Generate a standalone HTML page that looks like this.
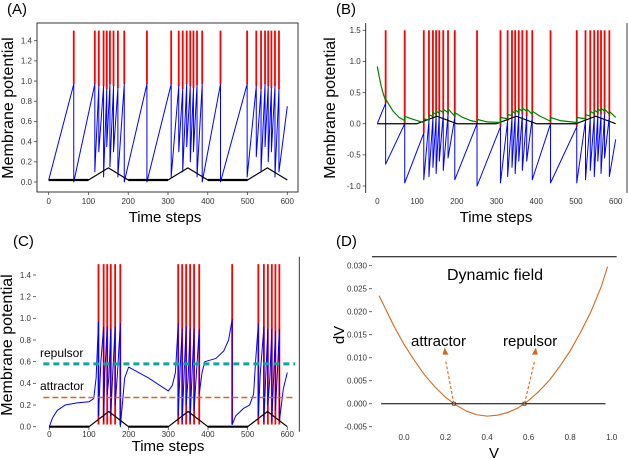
<!DOCTYPE html>
<html><head><meta charset="utf-8"><style>
body{margin:0;background:#fff}
svg{display:block;font-family:"Liberation Sans",sans-serif}
</style></head><body>
<svg id="fig" width="628" height="460" viewBox="0 0 628 460" xmlns="http://www.w3.org/2000/svg"></svg>
<script>
// ---------- data ----------
const xTicks=[0,100,200,300,400,500,600];
const inputT=[0,100,150,200,300,350,400,500,550,600];
const inputVA=[0.02,0.02,0.14,0.02,0.02,0.14,0.02,0.02,0.14,0.02];
const inputVB=[0.0,0.0,0.12,0.0,0.0,0.12,0.0,0.0,0.12,0.0];
const inputVC=[0.0,0.0,0.14,0.0,0.0,0.14,0.0,0.0,0.14,0.0];

const spikesA=[63,116,126,138,146,154,163,174,190,247,308,327,337,347,356,364,373,386,432,499,522,534,544,552,560,569,579];
const peaksA=[0.97,0.97,0.95,0.95,0.92,0.97,0.95,0.93,0.97,0.97,0.97,0.95,0.92,0.97,0.95,0.93,0.96,0.97,0.97,0.97,0.95,0.92,0.97,0.95,0.93,0.95,0.92];
const resetsA=[0,0.1,0.3,0.05,0.35,0.15,0.3,0.05,0,0,0.05,0.3,0.1,0.35,0.2,0.3,0.05,0,0,0.05,0.25,0.1,0.35,0.2,0.3,0.05,0.1];
const yTicksA=[0,0.2,0.4,0.6,0.8,1.0,1.2,1.4];

const spikesB=[21,69,117,130,140,148,156,166,178,195,251,310,328,339,347,356,365,376,390,436,502,524,536,546,555,563,572,584];
const peaksB=[0.33,0.0,-0.15,0.05,0.1,0.12,0.15,0.15,0.15,0.1,0.0,-0.05,0.05,0.1,0.15,0.15,0.15,0.12,0.1,0.0,-0.05,0.05,0.1,0.12,0.15,0.15,0.15,0.12];
const resetsB=[-0.65,-0.95,-0.9,-0.85,-0.7,-0.8,-0.6,-0.75,-0.55,-0.9,-1.0,-0.95,-0.85,-0.7,-0.8,-0.6,-0.75,-0.6,-0.9,-0.95,-0.95,-0.9,-0.75,-0.85,-0.6,-0.8,-0.55,-0.85];
const greenT=[0,5,10,15,21,21,30,40,55,69,69,85,100,117,117,130,130,140,140,148,148,156,156,166,166,178,178,195,195,215,235,251,251,275,310,310,328,328,339,339,347,347,356,356,365,365,376,376,390,390,410,436,436,460,502,502,524,524,536,536,546,546,555,555,563,563,572,572,584,584,600];
const greenV=[0.92,0.75,0.6,0.48,0.37,0.40,0.3,0.2,0.1,0.05,0.12,0.08,0.05,0.02,0.08,0.06,0.14,0.12,0.18,0.15,0.2,0.17,0.22,0.18,0.23,0.18,0.24,0.12,0.18,0.1,0.05,0.03,0.07,0.03,0.02,0.1,0.08,0.15,0.13,0.2,0.17,0.22,0.18,0.24,0.2,0.25,0.2,0.24,0.15,0.2,0.12,0.04,0.1,0.05,0.02,0.1,0.08,0.15,0.12,0.2,0.16,0.22,0.18,0.24,0.2,0.25,0.2,0.24,0.15,0.2,0.1];
const yTicksB=[-1.0,-0.5,0.0,0.5,1.0,1.5];

const spikesC=[124,137,146,155,166,179,325,335,345,355,365,378,461,527,541,551,561,570,580];
const blueC=[[0,0],[8,0.08],[20,0.15],[40,0.2],[70,0.22],[100,0.23],[112,0.26],[118,0.45],[124,0.97],[124,0.1],[130,0.6],[137,0.92],[137,0.05],[140,0.5],[146,0.92],[146,0.3],[150,0.45],[155,0.9],[155,0.1],[160,0.5],[166,0.92],[166,0.2],[172,0.5],[179,0.95],[179,0.0],[184,0.2],[190,0.45],[200,0.55],[250,0.45],[300,0.33],[310,0.38],[318,0.5],[325,0.95],[325,0.1],[330,0.55],[335,0.9],[335,0.05],[340,0.5],[345,0.92],[345,0.2],[350,0.45],[355,0.9],[355,0.05],[360,0.5],[365,0.9],[365,0.15],[371,0.5],[378,0.9],[378,0.3],[385,0.5],[392,0.6],[420,0.63],[440,0.7],[452,0.8],[461,0.99],[461,0.02],[470,0.1],[490,0.17],[505,0.2],[515,0.3],[520,0.6],[527,0.95],[527,0.1],[532,0.5],[541,0.92],[541,0.05],[546,0.5],[551,0.9],[551,0.2],[556,0.45],[561,0.9],[561,0.05],[566,0.5],[570,0.88],[570,0.15],[575,0.5],[580,0.9],[580,0.05],[585,0.2],[590,0.35],[600,0.5]];
const repulsorV=0.58, attractorV=0.27;
const yTicksC=[0,0.2,0.4,0.6,0.8,1.0,1.2,1.4];

const fieldV=[-0.12,-0.05,0.0,0.05,0.1,0.15,0.2,0.25,0.3,0.35,0.4,0.45,0.5,0.55,0.6,0.65,0.7,0.75,0.8,0.85,0.9,0.95,0.98];
const fieldDV=[0.0235,0.0170,0.0129,0.0094,0.0062,0.0036,0.0014,-0.0003,-0.0016,-0.0024,-0.0027,-0.0025,-0.0019,-0.0009,0.0007,0.0027,0.0051,0.0081,0.0115,0.0155,0.0200,0.0255,0.0298];
const fixedPoints=[0.24,0.58];
const xTicksD=[0.0,0.2,0.4,0.6,0.8,1.0];
const yTicksD=[-0.005,0,0.005,0.010,0.015,0.020,0.025,0.030];

// ---------- helpers ----------
const svg=document.getElementById('fig');
const NS='http://www.w3.org/2000/svg';
function el(tag,attrs,parent){const e=document.createElementNS(NS,tag);for(const k in attrs)e.setAttribute(k,attrs[k]);(parent||svg).appendChild(e);return e;}
function txt(s,attrs,parent){const e=el('text',attrs,parent);e.textContent=s;return e;}
function lin(d0,d1,r0,r1){return v=>r0+(v-d0)*(r1-r0)/(d1-d0);}

function panel(id,xs,ys,yTicks,fmt,tickX){
  const g=el('g',{});
  
  
  yTicks.forEach(v=>{
    const t=el('line',{x1:tickX-3,x2:tickX,y1:ys(v),y2:ys(v),stroke:'#444','stroke-width':0.8},g);
    
    
    const l=txt(fmt(v),{x:tickX-5,y:ys(v)+2.8,'font-size':8,fill:'#333','text-anchor':'end'},g);
    
    
  });
  return g;
}
function xtickLabels(g,xs,y,ticks,fmt){
  ticks.forEach(v=>{
    const l=txt(fmt(v),{x:xs(v),y:y,'font-size':8,fill:'#333','text-anchor':'middle'},g);
    
    
  });
}
function polyline(g,pts,color,w,name,dash){
  const p=el('polyline',{points:pts.map(p=>p[0].toFixed(2)+','+p[1].toFixed(2)).join(' '),fill:'none',stroke:color,'stroke-width':w,'stroke-linejoin':'round'},g);
  if(dash)p.setAttribute('stroke-dasharray',dash);
  
  
  return p;
}
function spikeLines(g,xs,ys,times,bottoms,top,name){
  times.forEach((t,i)=>{
    const b=Array.isArray(bottoms)?bottoms[i]:bottoms;
    const l=el('line',{x1:xs(t),x2:xs(t),y1:ys(b),y2:ys(top),stroke:'#ff0000','stroke-width':1.8},g);
    
    
  });
}
function bluePath(xs,ys,times,peaks,resets,start,end){
  const pts=[[xs(0),ys(start)]];
  times.forEach((t,i)=>{pts.push([xs(t),ys(peaks[i])]);pts.push([xs(t),ys(resets[i])]);});
  pts.push([xs(600),ys(end)]);
  return pts;
}
function flatInput(g,xs,ys,vals,name){
  for(let i=0;i<inputT.length-1;i++){
    if(vals[i]===vals[i+1]){
      const l=el('line',{x1:xs(inputT[i]),x2:xs(inputT[i+1]),y1:ys(vals[i]),y2:ys(vals[i]),stroke:'#000','stroke-width':2.2},g);
      
      
    }
  }
}
function axisTitles(g,cx,cy,xt,yx,yy,ylab){
  const a=txt('Time steps',{x:cx,y:cy,'font-size':15,'text-anchor':'middle',fill:'#000'},g);
  
  
  const b=txt(ylab,{x:0,y:0,'font-size':16,'text-anchor':'middle',fill:'#000',transform:`translate(${yx},${yy}) rotate(-90)`},g);
  
  
}
function panelLabel(s,x,y){
  const l=txt(s,{x:x,y:y,'font-size':15,fill:'#000'});
  
  
}
const f1=v=>v.toFixed(1);

// ---------- Panel A ----------
{
  const xs=lin(0,600,48.7,287.3), ys=lin(0,1.4,182,40.7);
  const g=panel('a',xs,ys,yTicksA,f1,37);
  const box=el('rect',{x:37,y:23,width:261,height:169,fill:'none',stroke:'#222','stroke-width':0.9},g);
  
  
  xTicks.forEach(v=>{const t=el('line',{x1:xs(v),x2:xs(v),y1:192,y2:195,stroke:'#444','stroke-width':0.8},g);});
  xtickLabels(g,xs,204,xTicks,v=>String(v));
  spikeLines(g,xs,ys,spikesA,peaksA,1.5,'spike-a');
  polyline(g,bluePath(xs,ys,spikesA,peaksA,resetsA,0.02,0.75),'#0000ff',1,'membrane-trace-a');
  polyline(g,inputT.map((t,i)=>[xs(t),ys(inputVA[i])]),'#000',1.2,'input-current-a');
  flatInput(g,xs,ys,inputVA,'input-flat-a');
  axisTitles(g,165,222,0,13,108,'Membrane potential');
  panelLabel('(A)',7,14);
}
// ---------- Panel B ----------
{
  const xs=lin(0,600,377.3,615.7), ys=lin(-1.0,1.5,186,30.3);
  const g=panel('b',xs,ys,yTicksB,f1,365.7);
  const sp=el('line',{x1:365.7,x2:365.7,y1:23,y2:193,stroke:'#222','stroke-width':0.9},g);
  
  const sp2=el('line',{x1:627,x2:627,y1:23,y2:193,stroke:'#222','stroke-width':0.9},g);
  
  xtickLabels(g,xs,204,xTicks,v=>String(v));
  spikeLines(g,xs,ys,spikesB,peaksB,1.5,'spike-b');
  polyline(g,bluePath(xs,ys,spikesB,peaksB,resetsB,0.0,-0.25),'#0000ff',1,'membrane-trace-b');
  polyline(g,inputT.map((t,i)=>[xs(t),ys(inputVB[i])]),'#000',1.2,'input-current-b');
  polyline(g,greenT.map((t,i)=>[xs(t),ys(greenV[i])]),'#008000',1.2,'threshold-trace-b');
  axisTitles(g,496,222,0,335,108,'Membrane potential');
  panelLabel('(B)',336,14);
}
// ---------- Panel C ----------
{
  const xs=lin(0,600,49.3,287.3), ys=lin(0,1.4,426.7,275);
  const g=panel('c',xs,ys,yTicksC,f1,36);
  const sp=el('line',{x1:299.3,x2:299.3,y1:256.7,y2:431.7,stroke:'#222','stroke-width':0.9},g);
  
  xTicks.forEach(v=>{const t=el('line',{x1:xs(v),x2:xs(v),y1:427,y2:430,stroke:'#444','stroke-width':0.8},g);});
  xtickLabels(g,xs,437,xTicks,v=>String(v));
  spikeLines(g,xs,ys,spikesC,0.02,1.5,'spike-c');
  polyline(g,blueC.map(p=>[xs(p[0]),ys(p[1])]),'#0000ff',1,'membrane-trace-c');
  polyline(g,inputT.map((t,i)=>[xs(t),ys(inputVC[i])]),'#000',1.2,'input-current-c');
  flatInput(g,xs,ys,inputVC,'input-flat-c');
  polyline(g,[[xs(-15),ys(repulsorV)],[xs(620),ys(repulsorV)]],'#10a3a0',3,'repulsor-line','6,4');
  polyline(g,[[xs(-15),ys(attractorV)],[xs(620),ys(attractorV)]],'#d9651e',1.5,'attractor-line','6,3');
  const r=txt('repulsor',{x:40,y:357,'font-size':12,fill:'#000'},g);
  const a=txt('attractor',{x:40,y:390,'font-size':12,fill:'#000'},g);
  axisTitles(g,168,451,0,12,345,'Membrane potential');
  panelLabel('(C)',13,246);
}
// ---------- Panel D ----------
{
  const xs=lin(0,1,404,611.7), ys=lin(0,0.03,403.7,265.7);
  const g=panel('d',xs,ys,yTicksD,v=>v.toFixed(3),372);
  const top=el('line',{x1:372,x2:616.7,y1:256.7,y2:256.7,stroke:'#000','stroke-width':1},g);
  
  const z=el('line',{x1:xs(-0.11),x2:xs(0.97),y1:ys(0),y2:ys(0),stroke:'#000','stroke-width':1},g);
  
  xtickLabels(g,xs,440,xTicksD,f1);
  polyline(g,fieldV.map((v,i)=>[xs(v),ys(fieldDV[i])]),'#d2691e',1.1,'dynamic-field-curve');
  fixedPoints.forEach(v=>{
    const m=el('rect',{x:xs(v)-1.5,y:ys(0)-1.5,width:3,height:3,fill:'none',stroke:'#333','stroke-width':0.8},g);
    
  });
  const arrows=[[0.24,0.2],[0.58,0.63]];
  arrows.forEach(([x0,x1],i)=>{
    polyline(g,[[xs(x0),ys(0)],[xs(x1),ys(0.0095)]],'#d2691e',1.1,i?'repulsor-arrow':'attractor-arrow','3,2');
    const tx=xs(x1),ty=ys(0.0122);
    const h=el('polygon',{points:`${tx-3},${ty+7} ${tx+3},${ty+7} ${tx+(i?1:-1)},${ty}`,fill:'#d2691e'},g);
    
  });
  const t1=txt('Dynamic field',{x:495,y:280,'font-size':16,'text-anchor':'middle',fill:'#000'},g);
  const t2=txt('attractor',{x:411,y:346,'font-size':15,fill:'#000'},g);
  const t3=txt('repulsor',{x:503,y:346,'font-size':15,fill:'#000'},g);
  const xl=txt('V',{x:494,y:458,'font-size':15,'text-anchor':'middle',fill:'#000'},g);
  const yl=txt('dV',{x:0,y:0,'font-size':15,'text-anchor':'middle',fill:'#000',transform:'translate(344,335) rotate(-90)'},g);
  panelLabel('(D)',336,246);
}
</script>
</body></html>
